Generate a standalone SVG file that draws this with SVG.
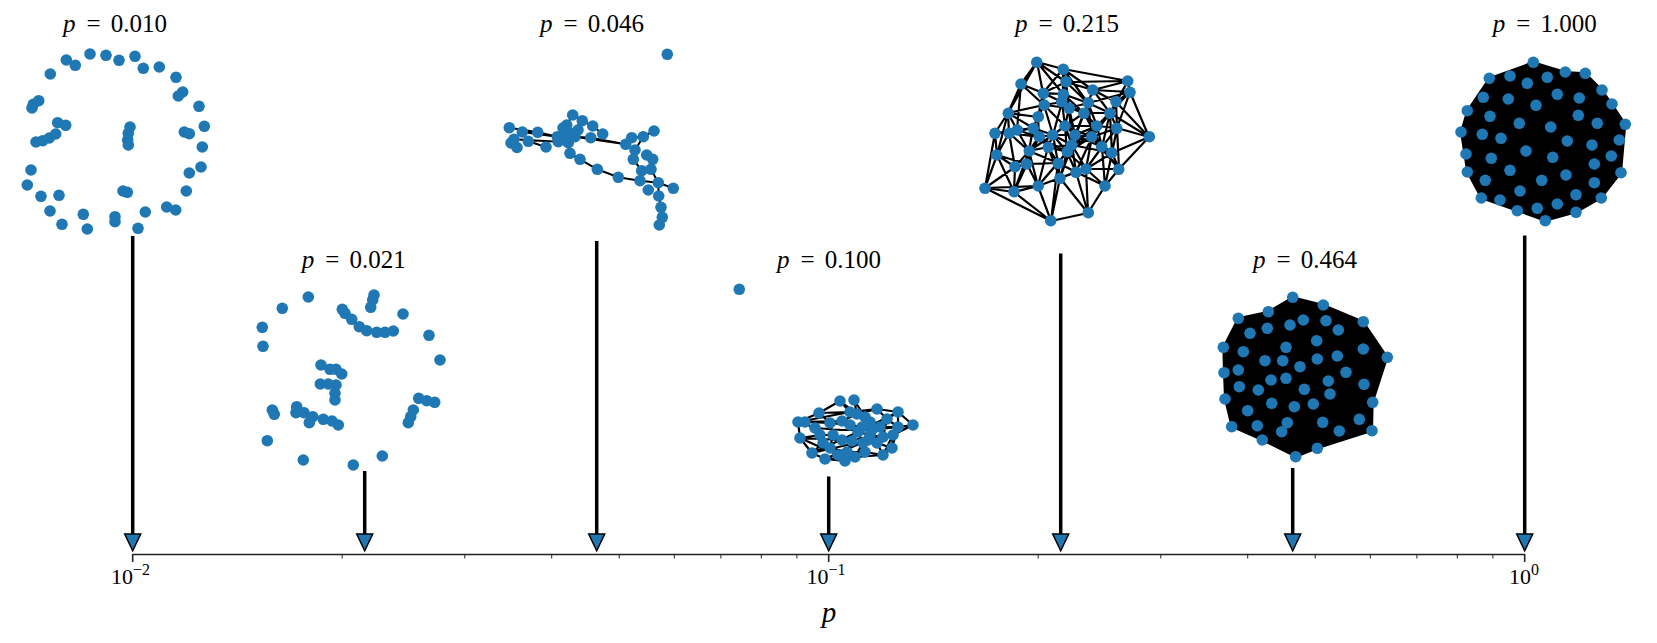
<svg xmlns="http://www.w3.org/2000/svg" width="1657" height="643" viewBox="0 0 1657 643">
<style>
text{font-family:"Liberation Serif","DejaVu Serif",serif;fill:#000}
.lbl{font-size:25px}
.it{font-style:italic}
.n circle{fill:#1f77b4}
.e{stroke:#000;fill:none;stroke-linejoin:round;stroke-linecap:round}
.blk{fill:#000;stroke:#000;stroke-linejoin:round}
.shaft{stroke:#000;stroke-width:3.5}
.head{fill:#1f77b4;stroke:#000;stroke-width:1.5;stroke-linejoin:miter}
.ax{stroke:#222;stroke-width:1.6}
.mt{stroke:#222;stroke-width:1}
</style>

<!-- labels -->
<g id="labels">
<text class="lbl" y="32"><tspan x="63" class="it">p</tspan><tspan x="86.5">=</tspan><tspan x="110.7">0.010</tspan></text>
<text class="lbl" y="268"><tspan x="301.7" class="it">p</tspan><tspan x="325.2">=</tspan><tspan x="349.4">0.021</tspan></text>
<text class="lbl" y="32"><tspan x="540" class="it">p</tspan><tspan x="563.5">=</tspan><tspan x="587.7">0.046</tspan></text>
<text class="lbl" y="268"><tspan x="777" class="it">p</tspan><tspan x="800.5">=</tspan><tspan x="824.7">0.100</tspan></text>
<text class="lbl" y="32"><tspan x="1015" class="it">p</tspan><tspan x="1038.5">=</tspan><tspan x="1062.7">0.215</tspan></text>
<text class="lbl" y="268"><tspan x="1253" class="it">p</tspan><tspan x="1276.5">=</tspan><tspan x="1300.7">0.464</tspan></text>
<text class="lbl" y="32"><tspan x="1492.7" class="it">p</tspan><tspan x="1516.2">=</tspan><tspan x="1540.4">1.000</tspan></text>
</g>

<!-- p = 0.010 -->
<g id="graph-p0010" class="n">
<circle cx="90" cy="54" r="5.8"/><circle cx="106" cy="55.3" r="5.8"/><circle cx="119" cy="60.3" r="5.8"/><circle cx="135" cy="56.3" r="5.8"/><circle cx="143.3" cy="68.3" r="5.8"/><circle cx="159.3" cy="67" r="5.8"/><circle cx="176" cy="77.3" r="5.8"/><circle cx="182.7" cy="92" r="5.8"/><circle cx="178.3" cy="96" r="5.8"/><circle cx="199" cy="106.3" r="5.8"/><circle cx="204.3" cy="126.3" r="5.8"/><circle cx="184.3" cy="132" r="5.8"/><circle cx="189.3" cy="133.7" r="5.8"/><circle cx="202.3" cy="147" r="5.8"/><circle cx="201" cy="167" r="5.8"/><circle cx="189.3" cy="173" r="5.8"/><circle cx="186.3" cy="191" r="5.8"/><circle cx="166.7" cy="207" r="5.8"/><circle cx="175.7" cy="210" r="5.8"/><circle cx="145.3" cy="212" r="5.8"/><circle cx="138" cy="228.3" r="5.8"/><circle cx="115" cy="216.7" r="5.8"/><circle cx="115" cy="221.7" r="5.8"/><circle cx="87.3" cy="229" r="5.8"/><circle cx="83.3" cy="214.3" r="5.8"/><circle cx="62" cy="224.3" r="5.8"/><circle cx="50" cy="211" r="5.8"/><circle cx="41" cy="196.3" r="5.8"/><circle cx="59" cy="195.3" r="5.8"/><circle cx="27.3" cy="185" r="5.8"/><circle cx="31" cy="170" r="5.8"/><circle cx="36" cy="142" r="5.8"/><circle cx="42.7" cy="140.7" r="5.8"/><circle cx="49.3" cy="138" r="5.8"/><circle cx="55.7" cy="134" r="5.8"/><circle cx="57.7" cy="122.7" r="5.8"/><circle cx="65.7" cy="125.3" r="5.8"/><circle cx="32" cy="108" r="5.8"/><circle cx="33.3" cy="104.3" r="5.8"/><circle cx="38.7" cy="100.7" r="5.8"/><circle cx="50.3" cy="74" r="5.8"/><circle cx="66.3" cy="60" r="5.8"/><circle cx="75.3" cy="65.3" r="5.8"/><circle cx="130" cy="127" r="5.8"/><circle cx="128.3" cy="133.3" r="5.8"/><circle cx="127.7" cy="140" r="5.8"/><circle cx="128.3" cy="145" r="5.8"/><circle cx="123" cy="191" r="5.8"/><circle cx="127.3" cy="192.3" r="5.8"/>
</g>

<!-- p = 0.021 -->
<g id="graph-p0021" class="n">
<circle cx="308.3" cy="297" r="5.8"/><circle cx="282.3" cy="308.3" r="5.8"/><circle cx="262.3" cy="327.3" r="5.8"/><circle cx="263" cy="346.3" r="5.8"/><circle cx="374" cy="295" r="5.8"/><circle cx="372.7" cy="300" r="5.8"/><circle cx="370.7" cy="307.3" r="5.8"/><circle cx="342.3" cy="309.3" r="5.8"/><circle cx="345" cy="313.3" r="5.8"/><circle cx="351.7" cy="319.3" r="5.8"/><circle cx="359.3" cy="326.7" r="5.8"/><circle cx="366.7" cy="330.7" r="5.8"/><circle cx="376.7" cy="332.3" r="5.8"/><circle cx="385" cy="332.3" r="5.8"/><circle cx="393.3" cy="331" r="5.8"/><circle cx="403" cy="314" r="5.8"/><circle cx="429" cy="335.3" r="5.8"/><circle cx="440" cy="360" r="5.8"/><circle cx="321" cy="365" r="5.8"/><circle cx="330" cy="369.3" r="5.8"/><circle cx="336" cy="369.3" r="5.8"/><circle cx="341.7" cy="374" r="5.8"/><circle cx="320.3" cy="384" r="5.8"/><circle cx="328.3" cy="384" r="5.8"/><circle cx="336" cy="385" r="5.8"/><circle cx="335" cy="393.3" r="5.8"/><circle cx="335" cy="400" r="5.8"/><circle cx="272.3" cy="410" r="5.8"/><circle cx="274.3" cy="414.3" r="5.8"/><circle cx="296.7" cy="406.7" r="5.8"/><circle cx="296" cy="412.7" r="5.8"/><circle cx="304" cy="412.7" r="5.8"/><circle cx="312.7" cy="416.7" r="5.8"/><circle cx="309.3" cy="422.7" r="5.8"/><circle cx="323.3" cy="419.3" r="5.8"/><circle cx="332" cy="421" r="5.8"/><circle cx="338.3" cy="425" r="5.8"/><circle cx="418.7" cy="398.3" r="5.8"/><circle cx="426.7" cy="400.7" r="5.8"/><circle cx="434.7" cy="402.3" r="5.8"/><circle cx="413.3" cy="410" r="5.8"/><circle cx="410.7" cy="416.7" r="5.8"/><circle cx="408.3" cy="422.7" r="5.8"/><circle cx="267.3" cy="440.7" r="5.8"/><circle cx="303.3" cy="460" r="5.8"/><circle cx="353.3" cy="465" r="5.8"/><circle cx="382.3" cy="456" r="5.8"/>
</g>

<!-- p = 0.046 -->
<g id="graph-p0046">
<path class="e" stroke-width="2" d="M509.3 127.7L537.7 132.3L557.3 136.7M522.3 132L557.3 136.7M514 139.3L558.3 141.7M528.3 141.3L546 147M575 136.7L625.7 144.3M590.7 137.7L625.7 144.3M570 153.3L580 159.3L597.3 169.3L618.3 177.3L640 180.7L658.3 182.7L673.3 188.3M625.7 144.3L631.7 137.7L643.3 136.7L654 131M635 150L633.3 159.3L641.7 170.7L640 180.7M646.7 155L652.7 159.3L651 169.3L658.3 182.7L658.7 196L661 207.3L662.3 217.3L659.3 225M643.3 136.7L635 150M557.3 136.7L570.7 133.3M566.7 125L572.7 115L582.3 120.7L592.7 126L602.7 134M568.3 142.7L570 153.3M575 136.7L590.7 137.7M566.7 125L575 136.7M582.3 120.7L570.7 133.3"/>
<g class="n">
<circle cx="667.3" cy="54.3" r="5.8"/><circle cx="509.3" cy="127.7" r="5.8"/><circle cx="522.3" cy="132" r="5.8"/><circle cx="537.7" cy="132.3" r="5.8"/><circle cx="514" cy="139.3" r="5.8"/><circle cx="511" cy="143" r="5.8"/><circle cx="517" cy="147.5" r="5.8"/><circle cx="528.3" cy="141.3" r="5.8"/><circle cx="546" cy="147" r="5.8"/><circle cx="557.3" cy="136.7" r="5.8"/><circle cx="558.3" cy="141.7" r="5.8"/><circle cx="566.7" cy="125" r="5.8"/><circle cx="572.7" cy="115" r="5.8"/><circle cx="582.3" cy="120.7" r="5.8"/><circle cx="592.7" cy="126" r="5.8"/><circle cx="602.7" cy="134" r="5.8"/><circle cx="570.7" cy="133.3" r="5.8"/><circle cx="568.3" cy="142.7" r="5.8"/><circle cx="575" cy="136.7" r="5.8"/><circle cx="563" cy="128" r="5.8"/><circle cx="578" cy="130" r="5.8"/><circle cx="565" cy="138" r="5.8"/><circle cx="590.7" cy="137.7" r="5.8"/><circle cx="570" cy="153.3" r="5.8"/><circle cx="580" cy="159.3" r="5.8"/><circle cx="597.3" cy="169.3" r="5.8"/><circle cx="618.3" cy="177.3" r="5.8"/><circle cx="625.7" cy="144.3" r="5.8"/><circle cx="631.7" cy="137.7" r="5.8"/><circle cx="643.3" cy="136.7" r="5.8"/><circle cx="654" cy="131" r="5.8"/><circle cx="635" cy="150" r="5.8"/><circle cx="646.7" cy="155" r="5.8"/><circle cx="633.3" cy="159.3" r="5.8"/><circle cx="641.7" cy="170.7" r="5.8"/><circle cx="652.7" cy="159.3" r="5.8"/><circle cx="651" cy="169.3" r="5.8"/><circle cx="640" cy="180.7" r="5.8"/><circle cx="648.3" cy="190" r="5.8"/><circle cx="658.3" cy="182.7" r="5.8"/><circle cx="673.3" cy="188.3" r="5.8"/><circle cx="658.7" cy="196" r="5.8"/><circle cx="661" cy="207.3" r="5.8"/><circle cx="662.3" cy="217.3" r="5.8"/><circle cx="659.3" cy="225" r="5.8"/>
</g>
</g>

<!-- p = 0.100 -->
<g id="graph-p0100">
<path class="e" stroke-width="2.2" d="M798 422L842 421L857 414L877 409L898 412L913 425L893 435L883 455L855 457L825 459L812 453L800 438L798 422L819 413L840 401L857 414L854 400L865 417L870 422L880 427L887 419L898 412M805 422L830 423L850 425L862 427L880 427L898 427L913 425M800 438L820 435L833 435L842 440L852 441L858 432L870 435L883 437L893 435M812 453L823 443L830 448L847 452L865 452L883 455L892 448L877 443L863 443L855 457L845 461L825 459M819 413L830 423L833 435L830 448L845 461M842 421L850 425L858 432L863 443L865 452M877 409L887 419L898 427L892 448M805 422L820 435L823 443M798 422L805 422M898 412L898 427L893 435L892 448M852 441L847 452L855 457M870 422L870 435L877 443L883 455M862 427L858 432M865 417L862 427M887 419L883 437M840 401L850 412M815 428L842 430L872 430L898 427M800 438L838 455L865 452M812 453L847 445L880 440L913 425M819 413L850 412L877 409M825 459L868 440L892 448M798 422L850 412M812 453L858 432L898 412M800 438L842 440L883 437"/>
<g class="n">
<circle cx="739.3" cy="289.3" r="5.8"/><circle cx="840" cy="401" r="5.8"/><circle cx="854" cy="400" r="5.8"/><circle cx="819" cy="413" r="5.8"/><circle cx="798" cy="422" r="5.8"/><circle cx="805" cy="422" r="5.8"/><circle cx="800" cy="438" r="5.8"/><circle cx="812" cy="453" r="5.8"/><circle cx="825" cy="459" r="5.8"/><circle cx="845" cy="461" r="5.8"/><circle cx="877" cy="409" r="5.8"/><circle cx="898" cy="412" r="5.8"/><circle cx="913" cy="425" r="5.8"/><circle cx="887" cy="419" r="5.8"/><circle cx="857" cy="414" r="5.8"/><circle cx="865" cy="417" r="5.8"/><circle cx="870" cy="422" r="5.8"/><circle cx="842" cy="421" r="5.8"/><circle cx="830" cy="423" r="5.8"/><circle cx="850" cy="425" r="5.8"/><circle cx="862" cy="427" r="5.8"/><circle cx="880" cy="427" r="5.8"/><circle cx="898" cy="427" r="5.8"/><circle cx="893" cy="435" r="5.8"/><circle cx="883" cy="437" r="5.8"/><circle cx="870" cy="435" r="5.8"/><circle cx="858" cy="432" r="5.8"/><circle cx="852" cy="441" r="5.8"/><circle cx="842" cy="440" r="5.8"/><circle cx="833" cy="435" r="5.8"/><circle cx="820" cy="435" r="5.8"/><circle cx="823" cy="443" r="5.8"/><circle cx="830" cy="448" r="5.8"/><circle cx="847" cy="452" r="5.8"/><circle cx="865" cy="452" r="5.8"/><circle cx="883" cy="455" r="5.8"/><circle cx="892" cy="448" r="5.8"/><circle cx="877" cy="443" r="5.8"/><circle cx="863" cy="443" r="5.8"/><circle cx="855" cy="457" r="5.8"/><circle cx="850" cy="412" r="5.8"/><circle cx="872" cy="430" r="5.8"/><circle cx="815" cy="428" r="5.8"/><circle cx="868" cy="440" r="5.8"/><circle cx="838" cy="455" r="5.8"/>
</g>
</g>

<!-- p = 0.215 -->
<g id="graph-p0215">
<path class="e" stroke-width="2.2" d="M1037 62L1021 84L1008 113L995 133L997 155L985 188L1051 221L1088 213L1105 186L1119 169L1149 137L1130 92L1128 81L1063 69L1037 62L1043 93L1044 105L1038 117L1033 128L1039 137L1048 147L1058 163L1060 178L1051 221L1038 186L985 188L1014 192L1015 167L997 155L1009 133L1017 130L1021 84L1043 93L1066 82L1128 81L1093 90L1088 103L1084 113L1065 126L1053 135L1029 151L1027 164L1014 192L1038 186L1060 178L1076 172L1088 213L1086 169L1105 186L1112 153L1117 128L1116 102L1130 92L1149 137L1112 153L1102 147L1092 137L1097 126L1110 113L1116 102L1093 90L1066 82L1063 69L1063 94L1062 102L1069 108L1084 113L1097 126L1117 128L1119 169L1086 169L1076 172L1067 152L1072 145L1075 135L1065 126L1069 108L1088 103L1092 137L1102 147L1119 169L1105 186L1076 172L1058 163L1067 152L1053 135L1039 137L1033 128L1017 130L1008 113L1044 105L1043 93L1063 94L1066 82L1037 62L1063 69L1093 90L1116 102L1110 113L1117 128L1149 137L1119 169L1112 153L1086 169L1072 145L1048 147L1029 151L1015 167L985 188L997 155L1027 164L1038 186L1058 163L1051 221L1014 192L1029 151L1033 128L1038 117L1044 105L1062 102L1063 94L1088 103L1110 113L1102 147L1086 169L1060 178L1067 152L1048 147L1053 135L1065 126L1075 135L1092 137L1112 153L1105 186L1088 213L1060 178L1058 163L1072 145L1097 126L1084 113L1069 108L1044 105L1021 84L1017 130L995 133L1009 133L1039 137L1027 164L1015 167L1014 192L997 155L1008 113L1037 62L1066 82L1069 108L1075 135L1102 147L1097 126L1088 103L1130 92L1116 102L1117 128L1092 137L1086 169L1119 169L1149 137L1110 113L1084 113L1062 102L1043 93L1038 117L1039 137L1029 151L1038 186L1076 172L1072 145L1088 103M1043 93L1062 102L1065 126L1072 145L1086 169L1088 213L1076 172L1060 178L1038 186L1048 147L1039 137L1038 117L1008 113L1009 133L1029 151L1058 163L1076 172L1086 169L1102 147L1117 128L1130 92L1093 90L1084 113L1075 135L1067 152L1058 163L1053 135L1044 105L1033 128L1009 133L1015 167L1027 164L1029 151L1039 137L1053 135L1062 102L1066 82L1088 103L1097 126L1092 137L1072 145L1076 172L1105 186L1119 169L1102 147L1075 135L1084 113L1088 103L1063 69L1043 93L1021 84L1017 130L1029 151L1048 147L1060 178L1086 169L1112 153L1110 113L1097 126L1065 126L1067 152L1038 186L1014 192L985 188L995 133L1008 113L1033 128L1053 135L1072 145L1112 153L1149 137L1116 102L1128 81L1066 82L1093 90L1110 113L1092 137L1076 172L1058 163L1038 186L1051 221L1060 178L1072 145M1021 84L1044 105L1065 126L1092 137L1119 169M1008 113L1033 128L1048 147L1067 152L1086 169L1105 186M1037 62L1063 94L1084 113L1102 147L1105 186M1063 69L1069 108L1072 145L1058 163L1027 164L997 155M1128 81L1110 113L1092 137L1067 152L1039 137L1017 130L995 133M1130 92L1097 126L1075 135L1053 135L1029 151L1014 192"/>
<g class="n">
<circle cx="1036.7" cy="62.3" r="5.8"/><circle cx="1063.3" cy="69.3" r="5.8"/><circle cx="1021" cy="84" r="5.8"/><circle cx="1066" cy="81.7" r="5.8"/><circle cx="1127.7" cy="81" r="5.8"/><circle cx="1130" cy="92.3" r="5.8"/><circle cx="1043.3" cy="93.3" r="5.8"/><circle cx="1063.3" cy="94.3" r="5.8"/><circle cx="1092.7" cy="90" r="5.8"/><circle cx="1044.3" cy="105" r="5.8"/><circle cx="1061.7" cy="101.7" r="5.8"/><circle cx="1069.3" cy="108.3" r="5.8"/><circle cx="1088.3" cy="102.7" r="5.8"/><circle cx="1116" cy="101.7" r="5.8"/><circle cx="1008.3" cy="113.3" r="5.8"/><circle cx="1038.3" cy="116.7" r="5.8"/><circle cx="1084" cy="113.3" r="5.8"/><circle cx="1110" cy="113.3" r="5.8"/><circle cx="995" cy="133.3" r="5.8"/><circle cx="1009.3" cy="133.3" r="5.8"/><circle cx="1017.3" cy="130" r="5.8"/><circle cx="1033.3" cy="128.3" r="5.8"/><circle cx="1065" cy="126" r="5.8"/><circle cx="1096.7" cy="126" r="5.8"/><circle cx="1116.7" cy="128.3" r="5.8"/><circle cx="1149.3" cy="136.7" r="5.8"/><circle cx="1039.3" cy="136.7" r="5.8"/><circle cx="1052.7" cy="135" r="5.8"/><circle cx="1075" cy="135" r="5.8"/><circle cx="1091.7" cy="136.7" r="5.8"/><circle cx="996.7" cy="155" r="5.8"/><circle cx="1029.3" cy="151" r="5.8"/><circle cx="1048.3" cy="147.3" r="5.8"/><circle cx="1071.7" cy="145" r="5.8"/><circle cx="1067.3" cy="151.7" r="5.8"/><circle cx="1101.7" cy="146.7" r="5.8"/><circle cx="1111.7" cy="152.7" r="5.8"/><circle cx="1015" cy="166.7" r="5.8"/><circle cx="1026.7" cy="164" r="5.8"/><circle cx="1058.3" cy="163.3" r="5.8"/><circle cx="1076" cy="172.3" r="5.8"/><circle cx="1086" cy="169" r="5.8"/><circle cx="1118.7" cy="169.3" r="5.8"/><circle cx="985" cy="188.3" r="5.8"/><circle cx="1014" cy="191.7" r="5.8"/><circle cx="1038.3" cy="186" r="5.8"/><circle cx="1060" cy="178.3" r="5.8"/><circle cx="1105" cy="186" r="5.8"/><circle cx="1050.7" cy="220.7" r="5.8"/><circle cx="1088.3" cy="212.7" r="5.8"/>
</g>
</g>

<!-- p = 0.464 -->
<g id="graph-p0464">
<polygon class="blk" stroke-width="2" points="1292.7,297.3 1323.3,305 1363.3,321.7 1387.3,357.3 1372.7,402.3 1372,430.7 1317.3,448.3 1295.7,456.7 1262.3,440 1231.7,426.7 1225,399 1224,372.7 1223.3,347.3 1238.3,318.3 1268.3,311.7"/>
<g class="n">
<circle cx="1292.7" cy="297.3" r="5.8"/><circle cx="1323.3" cy="305" r="5.8"/><circle cx="1268.3" cy="311.7" r="5.8"/><circle cx="1238.3" cy="318.3" r="5.8"/><circle cx="1303.3" cy="320" r="5.8"/><circle cx="1326" cy="320.7" r="5.8"/><circle cx="1363.3" cy="321.7" r="5.8"/><circle cx="1290" cy="325" r="5.8"/><circle cx="1267.3" cy="328.3" r="5.8"/><circle cx="1250" cy="333.3" r="5.8"/><circle cx="1338.3" cy="330" r="5.8"/><circle cx="1223.3" cy="347.3" r="5.8"/><circle cx="1243.3" cy="351.7" r="5.8"/><circle cx="1286" cy="347.3" r="5.8"/><circle cx="1316.7" cy="340.7" r="5.8"/><circle cx="1363.3" cy="349" r="5.8"/><circle cx="1387.3" cy="357.3" r="5.8"/><circle cx="1265" cy="360.7" r="5.8"/><circle cx="1282.7" cy="360.7" r="5.8"/><circle cx="1317.3" cy="359" r="5.8"/><circle cx="1337.3" cy="356" r="5.8"/><circle cx="1300" cy="366.7" r="5.8"/><circle cx="1238.3" cy="370" r="5.8"/><circle cx="1224" cy="372.7" r="5.8"/><circle cx="1346" cy="372.3" r="5.8"/><circle cx="1271" cy="380" r="5.8"/><circle cx="1286" cy="378.3" r="5.8"/><circle cx="1328.3" cy="381" r="5.8"/><circle cx="1239.3" cy="386.7" r="5.8"/><circle cx="1258.3" cy="390" r="5.8"/><circle cx="1304.3" cy="389.3" r="5.8"/><circle cx="1364" cy="384.3" r="5.8"/><circle cx="1330" cy="394" r="5.8"/><circle cx="1225" cy="399" r="5.8"/><circle cx="1271.7" cy="403.3" r="5.8"/><circle cx="1294.3" cy="406.7" r="5.8"/><circle cx="1313.3" cy="404" r="5.8"/><circle cx="1372.7" cy="402.3" r="5.8"/><circle cx="1247.7" cy="410.7" r="5.8"/><circle cx="1287.3" cy="422.7" r="5.8"/><circle cx="1322.7" cy="422.3" r="5.8"/><circle cx="1359.3" cy="419.3" r="5.8"/><circle cx="1231.7" cy="426.7" r="5.8"/><circle cx="1257.3" cy="425.7" r="5.8"/><circle cx="1281.7" cy="431.7" r="5.8"/><circle cx="1339.3" cy="431" r="5.8"/><circle cx="1372" cy="430.7" r="5.8"/><circle cx="1262.3" cy="440" r="5.8"/><circle cx="1317.3" cy="448.3" r="5.8"/><circle cx="1295.7" cy="456.7" r="5.8"/>
</g>
</g>

<!-- p = 1.000 -->
<g id="graph-p1000">
<polygon class="blk" stroke-width="2" points="1533.3,62.3 1565.3,72 1585.3,73.3 1602,90 1612,104 1625.3,124.3 1621,172.7 1601.3,198 1576,212.3 1545.3,220.7 1517.3,210.7 1481.3,198 1467.3,172 1461,132 1467.3,110.7 1489.3,78.3"/>
<g class="n">
<circle cx="1533.3" cy="62.3" r="5.8"/><circle cx="1489.3" cy="78.3" r="5.8"/><circle cx="1510" cy="76" r="5.8"/><circle cx="1527.3" cy="83.3" r="5.8"/><circle cx="1547.3" cy="77.3" r="5.8"/><circle cx="1565.3" cy="72" r="5.8"/><circle cx="1585.3" cy="73.3" r="5.8"/><circle cx="1602" cy="90" r="5.8"/><circle cx="1612" cy="104" r="5.8"/><circle cx="1625.3" cy="124.3" r="5.8"/><circle cx="1619.3" cy="140" r="5.8"/><circle cx="1611.3" cy="156" r="5.8"/><circle cx="1621" cy="172.7" r="5.8"/><circle cx="1601.3" cy="198" r="5.8"/><circle cx="1576" cy="212.3" r="5.8"/><circle cx="1545.3" cy="220.7" r="5.8"/><circle cx="1517.3" cy="210.7" r="5.8"/><circle cx="1481.3" cy="198" r="5.8"/><circle cx="1467.3" cy="172" r="5.8"/><circle cx="1466" cy="154" r="5.8"/><circle cx="1461" cy="132" r="5.8"/><circle cx="1467.3" cy="110.7" r="5.8"/><circle cx="1483.3" cy="97.3" r="5.8"/><circle cx="1508.3" cy="99" r="5.8"/><circle cx="1536" cy="105.3" r="5.8"/><circle cx="1557.3" cy="94.3" r="5.8"/><circle cx="1579.3" cy="98" r="5.8"/><circle cx="1578.3" cy="115.3" r="5.8"/><circle cx="1597.3" cy="123.3" r="5.8"/><circle cx="1592" cy="145" r="5.8"/><circle cx="1594.3" cy="164" r="5.8"/><circle cx="1594.3" cy="182.7" r="5.8"/><circle cx="1576" cy="194.7" r="5.8"/><circle cx="1557.3" cy="204" r="5.8"/><circle cx="1537.3" cy="208.3" r="5.8"/><circle cx="1500" cy="200" r="5.8"/><circle cx="1485.3" cy="180.3" r="5.8"/><circle cx="1491.3" cy="158.3" r="5.8"/><circle cx="1482.3" cy="134.3" r="5.8"/><circle cx="1490" cy="116.3" r="5.8"/><circle cx="1501" cy="138.3" r="5.8"/><circle cx="1519.3" cy="123.3" r="5.8"/><circle cx="1550.7" cy="127" r="5.8"/><circle cx="1567.3" cy="141" r="5.8"/><circle cx="1552.7" cy="157.3" r="5.8"/><circle cx="1566" cy="175" r="5.8"/><circle cx="1541.7" cy="180.3" r="5.8"/><circle cx="1520" cy="191" r="5.8"/><circle cx="1510" cy="170.3" r="5.8"/><circle cx="1526" cy="151" r="5.8"/>
</g>
</g>

<!-- axis -->
<g id="axis">
<line class="ax" x1="132.7" y1="554.5" x2="1524.7" y2="554.5"/>
<line class="ax" x1="132.7" y1="554" x2="132.7" y2="562"/>
<line class="ax" x1="828.7" y1="554" x2="828.7" y2="562"/>
<line class="ax" x1="1524.7" y1="554" x2="1524.7" y2="562"/>
<path class="mt" d="M342.2 554V558.5M464.8 554V558.5M551.7 554V558.5M619.2 554V558.5M674.3 554V558.5M720.9 554V558.5M761.3 554V558.5M796.9 554V558.5M1038.2 554V558.5M1160.8 554V558.5M1247.7 554V558.5M1315.2 554V558.5M1370.3 554V558.5M1416.9 554V558.5M1457.3 554V558.5M1492.9 554V558.5"/>
<text font-size="22" x="111" y="583.5">10<tspan font-size="16" dy="-8.5">−2</tspan></text>
<text font-size="22" x="806.5" y="583.5">10<tspan font-size="16" dy="-8.5">−1</tspan></text>
<text font-size="22" x="1509" y="583.5">10<tspan font-size="16" dy="-8.5">0</tspan></text>
<text x="829" y="621.5" text-anchor="middle" font-size="29" font-style="italic">p</text>
</g>

<!-- connectors -->
<g id="connectors">
<line class="shaft" x1="132.7" y1="236" x2="132.7" y2="536"/>
<line class="shaft" x1="364.7" y1="471" x2="364.7" y2="536"/>
<line class="shaft" x1="596.7" y1="241" x2="596.7" y2="536"/>
<line class="shaft" x1="828.7" y1="476.5" x2="828.7" y2="536"/>
<line class="shaft" x1="1060.7" y1="253.5" x2="1060.7" y2="536"/>
<line class="shaft" x1="1292.7" y1="468" x2="1292.7" y2="536"/>
<line class="shaft" x1="1524.7" y1="235.5" x2="1524.7" y2="536"/>
<polygon class="head" points="124.7,534 140.7,534 132.7,550.7"/>
<polygon class="head" points="356.7,534 372.7,534 364.7,550.7"/>
<polygon class="head" points="588.7,534 604.7,534 596.7,550.7"/>
<polygon class="head" points="820.7,534 836.7,534 828.7,550.7"/>
<polygon class="head" points="1052.7,534 1068.7,534 1060.7,550.7"/>
<polygon class="head" points="1284.7,534 1300.7,534 1292.7,550.7"/>
<polygon class="head" points="1516.7,534 1532.7,534 1524.7,550.7"/>
</g>
</svg>
